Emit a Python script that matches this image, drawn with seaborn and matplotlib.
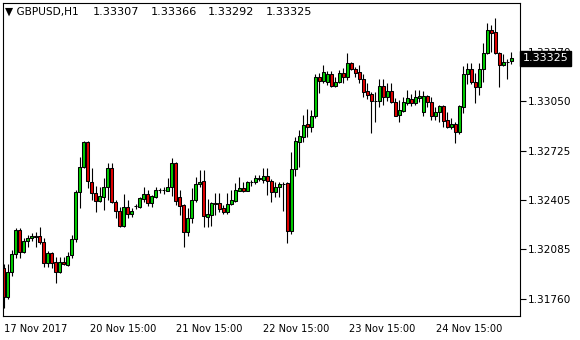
import matplotlib
matplotlib.use("Agg")
import matplotlib.pyplot as plt
import seaborn as sns
import numpy as np
import pandas as pd

sns.set_style("white")
plt.rcParams['font.family'] = ['DejaVu Sans']

title_symbol = "\u25BC GBPUSD,H1"
title_values = ["1.33307", "1.33366", "1.33292", "1.33325"]
last_price_label = "1.33325"

opens = [
    1.31959, 1.31770, 1.31933, 1.32050, 1.32206, 1.32063, 1.32135, 1.32156, 1.32167, 1.32167,
    1.32128, 1.31991, 1.32060, 1.31998, 1.31933, 1.31998, 1.31978, 1.32043, 1.32148, 1.32454,
    1.32617, 1.32780, 1.32520, 1.32448, 1.32395, 1.32421, 1.32487, 1.32611, 1.32389, 1.32330,
    1.32232, 1.32356, 1.32311, 1.32363, 1.32356, 1.32408, 1.32441, 1.32382, 1.32421, 1.32467,
    1.32467, 1.32461, 1.32487, 1.32643, 1.32421, 1.32369, 1.32193, 1.32285, 1.32402, 1.32506,
    1.32526, 1.32291, 1.32304, 1.32382, 1.32382, 1.32350, 1.32324, 1.32376, 1.32395, 1.32461,
    1.32480, 1.32461, 1.32520, 1.32520, 1.32539, 1.32533, 1.32559, 1.32526, 1.32454, 1.32487,
    1.32506, 1.32513, 1.32200, 1.32604, 1.32780, 1.32813, 1.32898, 1.32878, 1.32950, 1.33204,
    1.33178, 1.33171, 1.33224, 1.33145, 1.33171, 1.33230, 1.33204, 1.33295, 1.33256, 1.33237,
    1.33191, 1.33113, 1.33093, 1.33048, 1.33048, 1.33145, 1.33074, 1.33113, 1.33041, 1.32956,
    1.32982, 1.33035, 1.33061, 1.33035, 1.33067, 1.32976, 1.33080, 1.33041, 1.32950, 1.32976,
    1.33015, 1.32924, 1.32878, 1.32898, 1.32846, 1.33009, 1.33224, 1.33256, 1.33172, 1.33139,
    1.33256, 1.33363, 1.33510, 1.33497, 1.33363, 1.33284, 1.33302, 1.33307]

highs = [
    1.31985, 1.31985, 1.32076, 1.32219, 1.32219, 1.32154, 1.32174, 1.32187, 1.32193, 1.32226,
    1.32154, 1.32070, 1.32063, 1.32030, 1.32030, 1.32030, 1.32063, 1.32174, 1.32467, 1.32682,
    1.32787, 1.32787, 1.32611, 1.32493, 1.32487, 1.32545, 1.32643, 1.32643, 1.32402, 1.32356,
    1.32441, 1.32402, 1.32350, 1.32376, 1.32421, 1.32487, 1.32467, 1.32434, 1.32487, 1.32480,
    1.32487, 1.32545, 1.32676, 1.32650, 1.32467, 1.32376, 1.32350, 1.32480, 1.32552, 1.32598,
    1.32598, 1.32408, 1.32389, 1.32448, 1.32448, 1.32369, 1.32448, 1.32467, 1.32513, 1.32552,
    1.32520, 1.32526, 1.32533, 1.32565, 1.32565, 1.32611, 1.32611, 1.32539, 1.32520, 1.32520,
    1.32520, 1.32520, 1.32715, 1.32813, 1.32858, 1.32956, 1.32995, 1.32989, 1.33224, 1.33230,
    1.33282, 1.33243, 1.33243, 1.33204, 1.33250, 1.33263, 1.33360, 1.33302, 1.33269, 1.33282,
    1.33224, 1.33165, 1.33106, 1.33106, 1.33191, 1.33191, 1.33165, 1.33165, 1.33067, 1.33054,
    1.33074, 1.33119, 1.33093, 1.33119, 1.33119, 1.33113, 1.33087, 1.33074, 1.33009, 1.33021,
    1.33021, 1.32976, 1.32937, 1.32911, 1.33021, 1.33276, 1.33295, 1.33295, 1.33230, 1.33295,
    1.33426, 1.33556, 1.33543, 1.33589, 1.33369, 1.33356, 1.33321, 1.33366]

lows = [
    1.31698, 1.31757, 1.31906, 1.32024, 1.32024, 1.32056, 1.32096, 1.32135, 1.32096, 1.32115,
    1.31965, 1.31965, 1.31959, 1.31861, 1.31926, 1.31978, 1.31972, 1.32024, 1.32128, 1.32350,
    1.32611, 1.32480, 1.32402, 1.32324, 1.32389, 1.32337, 1.32402, 1.32382, 1.32285, 1.32226,
    1.32226, 1.32285, 1.32291, 1.32343, 1.32350, 1.32389, 1.32363, 1.32356, 1.32415, 1.32448,
    1.32441, 1.32461, 1.32428, 1.32369, 1.32304, 1.32096, 1.32167, 1.32252, 1.32389, 1.32487,
    1.32226, 1.32226, 1.32232, 1.32304, 1.32324, 1.32311, 1.32311, 1.32369, 1.32389, 1.32458,
    1.32454, 1.32458, 1.32493, 1.32506, 1.32526, 1.32513, 1.32434, 1.32389, 1.32421, 1.32421,
    1.32330, 1.32122, 1.32180, 1.32558, 1.32617, 1.32780, 1.32813, 1.32845, 1.32937, 1.33100,
    1.33165, 1.33152, 1.33139, 1.33139, 1.33165, 1.33165, 1.33185, 1.33250, 1.33204, 1.33165,
    1.33074, 1.33061, 1.32839, 1.32911, 1.33009, 1.33021, 1.33048, 1.33035, 1.32950, 1.32911,
    1.32976, 1.33021, 1.33015, 1.33021, 1.33041, 1.32950, 1.33009, 1.32924, 1.32924, 1.32911,
    1.32878, 1.32872, 1.32865, 1.32774, 1.32832, 1.32969, 1.33159, 1.33159, 1.33035, 1.33087,
    1.33172, 1.33356, 1.33369, 1.33356, 1.33139, 1.33278, 1.33191, 1.33292]

closes = [
    1.31770, 1.31933, 1.32050, 1.32206, 1.32063, 1.32135, 1.32154, 1.32167, 1.32161, 1.32128,
    1.31991, 1.32056, 1.31991, 1.31933, 1.31998, 1.31985, 1.32037, 1.32148, 1.32454, 1.32617,
    1.32780, 1.32526, 1.32448, 1.32395, 1.32428, 1.32487, 1.32611, 1.32389, 1.32330, 1.32232,
    1.32356, 1.32311, 1.32330, 1.32363, 1.32415, 1.32441, 1.32382, 1.32428, 1.32467, 1.32470,
    1.32467, 1.32487, 1.32643, 1.32395, 1.32363, 1.32193, 1.32285, 1.32402, 1.32506, 1.32520,
    1.32298, 1.32311, 1.32382, 1.32379, 1.32343, 1.32324, 1.32376, 1.32402, 1.32467, 1.32480,
    1.32461, 1.32520, 1.32520, 1.32545, 1.32545, 1.32559, 1.32526, 1.32454, 1.32487, 1.32506,
    1.32506, 1.32200, 1.32604, 1.32787, 1.32819, 1.32891, 1.32878, 1.32950, 1.33204, 1.33178,
    1.33237, 1.33224, 1.33145, 1.33171, 1.33230, 1.33204, 1.33295, 1.33256, 1.33230, 1.33191,
    1.33106, 1.33087, 1.33048, 1.33048, 1.33145, 1.33074, 1.33113, 1.33041, 1.32953, 1.32989,
    1.33041, 1.33067, 1.33035, 1.33074, 1.33080, 1.33080, 1.33041, 1.32950, 1.32976, 1.33015,
    1.32917, 1.32878, 1.32898, 1.32846, 1.33015, 1.33224, 1.33256, 1.33172, 1.33139, 1.33256,
    1.33363, 1.33510, 1.33491, 1.33363, 1.33284, 1.33302, 1.33305, 1.33325]

y_ticks = [1.31760, 1.32085, 1.32405, 1.32725, 1.33050, 1.33370]
x_tick_bars = [0.0, 21.5, 43.2, 64.85, 86.5, 108.2]
x_tick_labels = ["17 Nov 2017", "20 Nov 15:00", "21 Nov 15:00",
                 "22 Nov 15:00", "23 Nov 15:00", "24 Nov 15:00"]

GREEN = "#00CC00"
RED = "#E00000"

df = pd.DataFrame(dict(open=opens, high=highs, low=lows, close=closes))
df["bar"] = np.arange(len(df))
df["bull"] = df["close"] >= df["open"]
df["body_lo"] = df[["open", "close"]].min(axis=1)
df["body_h"] = (df["close"] - df["open"]).abs()

W, H = 580, 340
fig = plt.figure(figsize=(W / 100, H / 100), dpi=100)
fig.patch.set_facecolor("white")
left, right, top, bottom = 2.5, 520, 2.5, 316
ax = fig.add_axes([left / W, (H - bottom) / H, (right - left) / W, (bottom - top) / H])
ax.set_facecolor("white")

ax.vlines(df["bar"], df["low"], df["high"], color="black", linewidth=0.8, zorder=1)
ax.bar(df["bar"], df["body_h"], bottom=df["body_lo"], width=0.74,
       color=np.where(df["bull"], GREEN, RED), edgecolor="black",
       linewidth=0.75, zorder=2)

ax.set_xlim(-0.3, 129.2)
ax.set_ylim(1.31646, 1.33690)

for s in ax.spines.values():
    s.set_color("black")
    s.set_linewidth(0.8)
    s.set_visible(True)

ax.yaxis.tick_right()
ax.set_yticks(y_ticks)
ax.set_yticklabels([f"{v:.5f}" for v in y_ticks])
ax.set_xticks(x_tick_bars)
ax.set_xticklabels(x_tick_labels, ha="left")
ax.tick_params(axis="both", direction="out", length=4, width=0.8, colors="black")
ax.tick_params(axis="x", labelsize=7.1, pad=1.5)
ax.tick_params(axis="y", labelsize=7.6, pad=2)
ax.grid(False)

ax.text(1.0 + 2.5 / (right - left), closes[-1], last_price_label,
        transform=ax.get_yaxis_transform(), ha="left", va="center",
        color="white", fontsize=8, zorder=10, clip_on=False,
        bbox=dict(boxstyle="square,pad=0.22", fc="black", ec="black"))

fig.text(5 / W, 1 - 12 / H, title_symbol, ha="left", va="center", fontsize=7.6, color="black")
for k, val in enumerate(title_values):
    fig.text((93 + 57.5 * k) / W, 1 - 12 / H, val, ha="left", va="center",
             fontsize=8.1, color="black")

fig.savefig("out.png", dpi=100, facecolor="white")
